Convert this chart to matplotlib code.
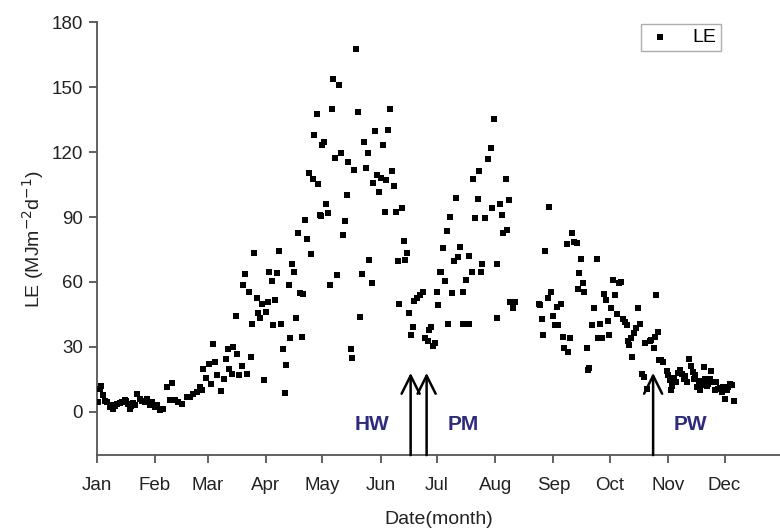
import matplotlib
matplotlib.use("Agg")
import matplotlib.pyplot as plt

plt.rcParams['font.family'] = ['Liberation Sans', 'DejaVu Sans']

# day of year and daily latent heat flux LE (MJ m-2 d-1)
day = [1.5, 2.6, 4.2, 6.3, 7.9, 9.5, 11.7, 14.3, 15.9, 17.5, 18.6, 20.2, 22.3, 23.9, 26.6,
       29.3, 31.9, 34.6, 36.2, 38.3, 39.9, 41.0, 42.6, 44.2, 46.3, 49.0, 50.6, 52.2, 54.3,
       55.9, 57.0, 57.5, 59.1, 60.7, 61.8, 62.8, 63.9, 65.0, 67.1, 68.7, 69.8, 70.8, 71.4,
       73.0, 73.5, 75.1, 75.6, 76.7, 78.3, 78.8, 79.9, 80.9, 82.0, 83.1, 83.6, 84.7, 86.3,
       86.8, 87.9, 89.0, 90.0, 91.1, 92.2, 92.7, 94.3, 94.8, 95.9, 97.0, 98.0, 99.1, 100.1,
       101.2, 101.7, 103.3, 103.9, 104.9, 106.0, 107.1, 108.1, 109.2, 110.3, 110.8, 111.9,
       112.9, 114.0, 115.1, 116.1, 116.7, 118.3, 118.8, 119.9, 120.4, 120.9, 122.0, 123.1,
       124.1, 125.0, 126.2, 126.8, 127.8, 128.9, 130.0, 131.1, 132.1, 133.2, 134.3, 134.8,
       136.4, 137.0, 138.0, 139.1, 140.2, 141.2, 142.3, 143.4, 144.4, 145.5, 146.0, 147.6,
       148.2, 149.2, 150.3, 151.3, 152.4, 153.4, 154.5, 155.0, 156.1, 157.2, 158.2, 159.3,
       160.4, 161.4, 162.0, 163.6, 164.6, 165.2, 166.2, 167.3, 168.4, 169.4, 170.0, 171.6,
       173.2, 174.8, 175.8, 177.4, 178.0, 179.0, 180.1, 181.2, 182.2, 182.8, 183.8, 184.4,
       185.4, 186.5, 187.6, 188.1, 189.2, 190.2, 191.3, 192.4, 193.4, 194.5, 195.6, 196.1,
       197.2, 198.8, 199.3, 200.4, 201.4, 202.5, 203.6, 204.6, 205.7, 206.2, 207.3, 209.4,
       210.5, 211.5, 212.1, 213.7, 214.2, 215.3, 216.4, 217.4, 218.5, 219.5, 220.1, 221.1,
       222.2, 223.3, 236.1, 236.6, 237.7, 238.2, 239.3, 240.9, 241.4, 242.5, 243.5, 244.6,
       245.7, 246.2, 247.8, 248.9, 249.4, 251.0, 251.5, 252.6, 253.7, 254.7, 256.3, 256.9,
       257.4, 258.5, 259.5, 260.1, 261.7, 262.2, 262.7, 264.3, 265.4, 267.0, 267.5, 268.6,
       269.7, 270.7, 271.8, 272.9, 273.4, 274.5, 275.5, 276.6, 277.6, 278.7, 279.8, 280.8,
       281.9, 283.0, 283.5, 284.0, 285.1, 285.6, 286.7, 287.8, 288.8, 289.9, 291.0, 292.0,
       292.6, 293.6, 295.2, 295.8, 297.4, 297.9, 298.4, 299.5, 300.0, 301.1, 302.2, 304.3,
       305.9, 306.4, 308.0, 310.2, 311.2, 312.3, 313.4, 315.0, 316.0, 317.1, 318.2, 318.7,
       320.3, 321.4, 323.0, 324.0, 324.6, 326.2, 327.2, 327.8, 328.8, 329.9, 331.5, 332.6,
       334.2, 335.2, 336.3, 336.8, 337.9, 340.0,
       3.2, 5.3, 8.6, 10.6, 13.2, 16.8, 19.4, 21.2, 25.0, 28.0, 30.6, 33.3, 304.9, 307.2,
       309.1, 314.2, 319.4, 322.2, 325.4, 330.7, 333.4, 338.9]
le = [4.6, 10.7, 8.0, 4.6, 2.3, 1.4, 3.7, 4.6, 5.6, 3.7, 1.4, 4.2, 8.4, 6.0, 4.6,
      3.0, 2.3, 1.0, 1.4, 11.6, 5.6, 13.5, 5.6, 4.6, 3.7, 7.0, 7.0, 8.4, 9.3,
      11.6, 10.2, 20.0, 15.5, 22.0, 13.0, 31.5, 23.0, 17.0, 9.7, 15.0, 24.6, 29.0, 20.0,
      17.6, 30.0, 44.5, 26.5, 17.0, 21.0, 58.5, 63.6, 17.6, 55.2, 25.5, 40.8, 73.3, 52.4,
      45.5, 43.2, 49.6, 14.8, 46.0, 50.6, 64.5, 60.3, 40.0, 51.5, 64.0, 74.2, 40.4, 28.8,
      8.8, 21.8, 58.5, 34.3, 68.2, 64.5, 43.2, 82.6, 54.8, 34.8, 54.3, 88.6,
      80.0, 110.4, 72.9, 107.7, 128.0, 137.4, 105.3, 91.0, 90.5, 123.4, 124.8, 96.0,
      91.9, 58.5, 139.7, 153.6, 117.4, 63.0, 150.8, 119.7, 81.7, 88.2, 100.2, 115.5,
      29.2, 25.0, 111.8, 167.5, 138.3, 43.6, 63.6, 124.8, 112.8, 119.7, 70.0, 59.4,
      105.8, 129.5, 109.5, 101.6, 108.1, 123.4, 92.3, 107.2, 130.0, 140.1, 111.4, 104.4,
      92.3, 69.6, 50.0, 94.2, 78.9, 70.0, 73.3, 45.5, 35.3, 39.4, 51.0, 52.4,
      53.8, 55.2, 33.9, 32.9, 37.6, 39.4, 30.6, 31.6, 55.2, 49.2, 64.5, 64.5,
      75.6, 60.3, 83.5, 40.8, 90.0, 54.8, 69.6, 98.8, 71.5, 76.1, 55.2, 40.8,
      60.8, 40.8, 71.9, 64.5, 107.7, 89.6, 98.4, 111.4, 64.5, 68.2, 89.6, 117.0,
      122.0, 94.2, 135.5, 68.2, 43.2, 96.0, 91.0, 82.6, 107.7, 84.0, 97.9, 50.6,
      47.8, 50.6, 49.6, 49.2, 42.7, 35.7, 74.2, 52.4, 94.7, 55.2, 44.1, 39.9,
      48.3, 39.9, 50.0, 34.8, 29.7, 77.5, 27.8, 33.9, 82.6, 78.4, 78.0, 56.6,
      64.0, 70.5, 59.4, 55.2, 29.7, 19.5, 20.4, 39.9, 47.8, 70.5, 34.3, 40.8,
      34.3, 54.3, 51.5, 41.8, 35.7, 47.8, 60.8, 53.8, 45.0, 59.4, 60.0, 42.7,
      41.3, 39.9, 32.9, 30.9, 33.9, 25.5, 36.2, 38.5, 47.8, 40.4, 17.6, 16.2,
      31.6, 10.7, 32.9, 33.4, 29.7, 34.8, 53.8, 36.7, 24.1, 24.1, 23.2, 19.0,
      14.8, 10.2, 15.8, 18.1, 19.5, 17.6, 15.3, 13.9, 24.6, 21.3, 18.6, 15.3,
      11.6, 14.4, 12.5, 20.9, 15.3, 13.0, 15.3, 19.0, 13.9, 10.2, 10.7, 11.1,
      11.6, 6.0, 10.2, 11.6, 13.0, 5.1,
      12.0, 5.0, 3.2, 2.8, 4.0, 5.0, 2.5, 3.0, 5.2, 6.0, 4.5, 3.0, 17.0, 12.0,
      14.0, 16.5, 17.0, 10.0, 12.0, 14.0, 9.0, 12.2]

month_starts = [1, 32, 60, 91, 121, 152, 182, 213, 244, 274, 305, 335]
month_labels = ['Jan', 'Feb', 'Mar', 'Apr', 'May', 'Jun', 'Jul', 'Aug', 'Sep', 'Oct', 'Nov', 'Dec']
y_ticks = [0, 30, 60, 90, 120, 150, 180]

arrow_days = [168, 176.5, 297]
arrow_tip = 18
stage_labels = ['HW', 'PM', 'PW']
stage_days = [147.6, 196.1, 317.1]
stage_y = -6

fig = plt.figure(figsize=(7.8, 5.28), dpi=100)
ax = fig.add_axes([0.124, 0.138, 0.876, 0.82])

ax.scatter(day, le, marker='s', s=14, color='black', linewidths=0, label='LE', zorder=3)

ax.set_xlim(1, 364.5)
ax.set_ylim(-20, 180)
ax.set_xticks(month_starts)
ax.set_xticklabels(month_labels)
ax.set_yticks(y_ticks)

for s in ['top', 'right']:
    ax.spines[s].set_visible(False)
for s in ['left', 'bottom']:
    ax.spines[s].set_color('#555555')
    ax.spines[s].set_linewidth(1.3)
ax.tick_params(axis='both', direction='out', length=6, width=1.3, color='#555555',
               labelsize=13.5, labelcolor='#222222')
ax.tick_params(axis='x', pad=10)
ax.tick_params(axis='y', pad=4)

ax.set_xlabel('Date(month)', fontsize=14, color='#222222', labelpad=12)
ax.set_ylabel('LE (MJm$^{-2}$d$^{-1}$)', fontsize=14, color='#222222', labelpad=4)

for d in arrow_days:
    ax.annotate('', xy=(d, arrow_tip), xytext=(d, -20),
                arrowprops=dict(arrowstyle='->,head_length=1.3,head_width=0.65',
                                color='black', lw=1.8, shrinkA=0, shrinkB=0),
                annotation_clip=False, zorder=4)

for lab, d in zip(stage_labels, stage_days):
    ax.text(d, stage_y, lab, ha='center', va='center', fontsize=15,
            fontweight='bold', color='#2e2b7c')

leg = ax.legend(loc='upper right', bbox_to_anchor=(0.922, 1.01), frameon=True,
                fancybox=False, fontsize=14, handlelength=1.5, markerscale=1.0,
                borderpad=0.25, handletextpad=0.9, borderaxespad=0.3)
leg.get_frame().set_edgecolor('#999999')
leg.get_frame().set_linewidth(1.0)

fig.savefig('out.png', dpi=100)
